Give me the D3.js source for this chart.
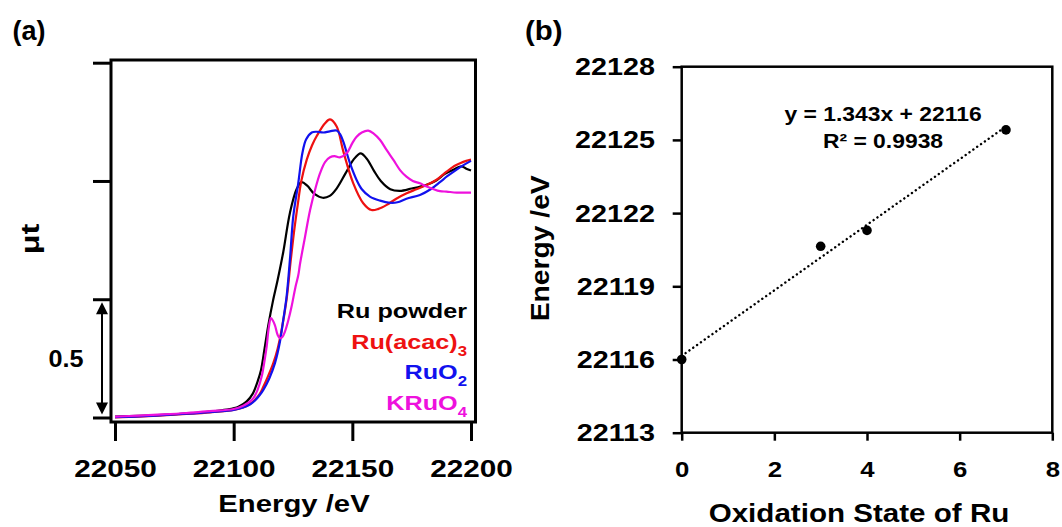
<!DOCTYPE html>
<html>
<head>
<meta charset="utf-8">
<script src="https://cdn.jsdelivr.net/npm/d3@7"></script>
<style>
  html, body { margin: 0; padding: 0; background: #fff; }
  svg { display: block; }
  text { font-family: "Liberation Sans", Arial, sans-serif; font-weight: bold; }
</style>
</head>
<body>
<svg id="chart" width="1062" height="527"></svg>
<script>
// ---------------- DATA ----------------
// Panel (a): XANES spectra, [energy (eV), normalized μt]
const ruPowder = [
  [22050,0.004],[22060,0.007],[22070,0.011],[22080,0.017],[22090,0.025],[22097,0.033],
  [22102,0.045],[22105.5,0.068],[22108,0.10],[22110,0.15],[22111.5,0.20],[22113,0.29],
  [22114.6,0.39],[22116.5,0.49],[22118.5,0.58],[22120.9,0.70],[22123.7,0.865],[22126.5,0.965],
  [22128.6,0.995],[22131,0.98],[22134,0.945],[22137.5,0.929],[22140.5,0.937],[22143.5,0.97],
  [22147,1.03],[22150.5,1.09],[22153.5,1.117],[22156,1.095],[22159,1.045],[22162,1.00],
  [22166,0.965],[22170,0.958],[22175,0.968],[22181,0.983],[22185,1.0],[22189,1.03],
  [22193,1.05],[22196,1.062],[22198,1.052],[22200,1.044]
];
const ruAcac3 = [
  [22050,0.0],[22060,0.004],[22070,0.009],[22080,0.015],[22090,0.022],[22100,0.032],
  [22104,0.042],[22107,0.058],[22109,0.075],[22111,0.10],[22112.5,0.13],[22114.5,0.175],
  [22116.7,0.23],[22118.5,0.29],[22120.2,0.37],[22122.3,0.50],[22124,0.66],[22125.5,0.79],
  [22127,0.90],[22128.5,1.00],[22130.8,1.09],[22133,1.15],[22135,1.19],[22138.5,1.244],
  [22140.6,1.26],[22143.4,1.23],[22146.2,1.125],[22150.4,0.99],[22154.6,0.906],[22158.1,0.877],
  [22161,0.882],[22164.5,0.899],[22168.5,0.925],[22172.9,0.948],[22177,0.965],[22181.3,0.983],
  [22185.5,1.005],[22189.7,1.039],[22193,1.063],[22195.4,1.075],[22198,1.085],[22200,1.09]
];
const ruO2 = [
  [22050,0.002],[22060,0.005],[22070,0.01],[22080,0.016],[22090,0.023],[22100,0.032],
  [22104,0.042],[22107,0.056],[22109,0.072],[22111,0.095],[22112.5,0.117],[22115,0.165],
  [22117.4,0.23],[22119.5,0.32],[22120.9,0.413],[22122.3,0.511],[22123.8,0.68],[22125.1,0.849],
  [22127.2,0.99],[22129,1.12],[22130.5,1.175],[22132.9,1.205],[22135,1.208],[22137.8,1.205],
  [22140.5,1.21],[22143.4,1.213],[22145,1.195],[22146.2,1.166],[22149,1.075],[22151.8,1.004],
  [22154,0.965],[22157.4,0.934],[22161.7,0.917],[22165.8,0.908],[22169,0.91],[22172.8,0.925],
  [22178.5,0.941],[22183,0.965],[22186.9,0.995],[22190,1.02],[22193.5,1.045],[22197,1.068],
  [22200,1.085]
];
const kRuO4 = [
  [22050,0.004],[22060,0.008],[22070,0.013],[22080,0.019],[22090,0.027],[22100,0.036],
  [22104,0.05],[22106.5,0.065],[22108.3,0.082],[22110,0.115],[22111.8,0.173],[22113,0.24],
  [22113.9,0.30],[22114.8,0.38],[22115.7,0.42],[22116.5,0.41],[22117.4,0.39],[22118.5,0.35],
  [22119.5,0.335],[22120.5,0.34],[22121.6,0.363],[22123,0.41],[22124.4,0.469],[22126,0.55],
  [22127.2,0.60],[22128,0.652],[22130,0.76],[22132.2,0.877],[22134.5,0.97],[22136.4,1.033],
  [22138.5,1.08],[22140.6,1.10],[22142.5,1.105],[22144.8,1.10],[22147.6,1.117],[22150,1.16],
  [22151.8,1.187],[22154,1.205],[22156.7,1.213],[22159,1.20],[22161.7,1.173],[22164.5,1.13],
  [22167.3,1.089],[22170.1,1.046],[22172.8,1.018],[22175.5,1.0],[22178.5,0.99],[22181,0.978],
  [22186.9,0.957],[22189.7,0.955],[22194,0.951],[22200,0.951]
];
const seriesNames = ["Ru powder", "Ru(acac)", "RuO", "KRuO"];
const seriesSubs = ["", "3", "2", "4"];
const seriesColors = ["#000000", "#ee1111", "#1111ee", "#ee11dd"];
const seriesData = [ruPowder, ruAcac3, ruO2, kRuO4];
const energyTicks = [22050, 22100, 22150, 22200];
const muTicks = [0, 0.5, 1.0, 1.5];
const scaleBarValue = "0.5";

// Panel (b): edge energy vs oxidation state
const oxidationStates = [0, 3, 4, 7];
const edgeEnergies = [22116.0, 22120.64, 22121.29, 22125.41];
const oxTicks = [0, 2, 4, 6, 8];
const energyTicksB = [22113, 22116, 22119, 22122, 22125, 22128];
const fitSlope = 1.343;
const fitIntercept = 22116.15;
const fitRange = [0, 7];
const fitLabel = "y = 1.343x + 22116";
const r2Label = "R² = 0.9938";

// ---------------- DRAW ----------------
const svg = d3.select("#chart");
const FONT = '"Liberation Sans", Arial, sans-serif';

function label(g, x, y, str, o = {}) {
  const t = g.append("text")
    .attr("transform", `translate(${x},${y})` + (o.rotate ? ` rotate(${o.rotate})` : "") + ` scale(${o.sx || 1},1)`)
    .attr("text-anchor", o.anchor || "start")
    .attr("font-size", o.size || 24)
    .attr("fill", o.color || "#000")
    .text(str);
  return t;
}

// ===== Panel (a) =====
const gA = svg.append("g");
const xA = d3.scaleLinear().domain([22050, 22200]).range([115, 471]);
const yA = d3.scaleLinear().domain([0, 1.5]).range([417.5, 62.7]);

// y ticks (no labels)
gA.append("g")
  .attr("transform", "translate(111,0)")
  .call(d3.axisLeft(yA).tickValues(muTicks).tickSize(18).tickSizeOuter(0).tickFormat(""))
  .call(g => g.select(".domain").remove())
  .call(g => g.selectAll(".tick line").attr("stroke", "#000").attr("stroke-width", 3));

// x axis
gA.append("g")
  .attr("transform", "translate(0,422)")
  .call(d3.axisBottom(xA).tickValues(energyTicks).tickSize(19).tickSizeOuter(0).tickFormat(d3.format("d")))
  .call(g => g.select(".domain").remove())
  .call(g => g.selectAll(".tick line").attr("stroke", "#000").attr("stroke-width", 3))
  .call(g => g.selectAll(".tick text")
    .attr("y", 55).attr("dy", null)
    .attr("transform", "scale(1.24,1)")
    .attr("font-size", 24).attr("font-family", FONT).attr("font-weight", "bold").attr("fill", "#000"));

// curves
const lineA = d3.line().x(d => xA(d[0])).y(d => yA(d[1])).curve(d3.curveCatmullRom.alpha(0.5));
seriesData.forEach((s, i) => {
  gA.append("path").datum(s)
    .attr("d", lineA)
    .attr("fill", "none")
    .attr("stroke", seriesColors[i])
    .attr("stroke-width", 2.2)
    .attr("stroke-linejoin", "round");
});

// frame
gA.append("rect").attr("x", 111).attr("y", 60).attr("width", 364.5).attr("height", 362)
  .attr("fill", "none").attr("stroke", "#000").attr("stroke-width", 3);

// legend
const legendBaselines = [318.3, 348.6, 379.4, 410];
seriesNames.forEach((n, i) => {
  const t = gA.append("text")
    .attr("transform", `translate(467,${legendBaselines[i]}) scale(1.2,1)`)
    .attr("text-anchor", "end")
    .attr("font-size", 21)
    .attr("fill", seriesColors[i]);
  t.append("tspan").text(n);
  if (seriesSubs[i]) t.append("tspan").attr("dy", 7).attr("font-size", 14).text(seriesSubs[i]);
});

// scale bar arrow (0.5)
const arrowX = 102;
const yTop = yA(0.5) + 3, yBot = yA(0) - 3;
gA.append("line").attr("x1", arrowX).attr("x2", arrowX).attr("y1", yTop + 8).attr("y2", yBot - 8)
  .attr("stroke", "#000").attr("stroke-width", 2);
gA.append("path").attr("d", `M${arrowX},${yTop} L${arrowX - 6},${yTop + 12} L${arrowX + 6},${yTop + 12} Z`).attr("fill", "#000");
gA.append("path").attr("d", `M${arrowX},${yBot} L${arrowX - 6},${yBot - 12} L${arrowX + 6},${yBot - 12} Z`).attr("fill", "#000");
label(gA, 66, 367, scaleBarValue, { size: 24, anchor: "middle", sx: 1.05 });

// axis titles
label(gA, 294, 512, "Energy /eV", { size: 24, anchor: "middle", sx: 1.22 });
label(gA, 39, 239, "μt", { size: 25, anchor: "middle", rotate: -90, sx: 1.3 });
label(gA, 12.5, 39.5, "(a)", { size: 27, sx: 1.0 });

// ===== Panel (b) =====
const gB = svg.append("g");
const xB = d3.scaleLinear().domain([0, 8]).range([681.7, 1052.3]);
const yB = d3.scaleLinear().domain([22113, 22128]).range([432.7, 66.7]);

gB.append("g")
  .attr("transform", "translate(0,432.7)")
  .call(d3.axisBottom(xB).tickValues(oxTicks).tickSize(8).tickSizeOuter(0).tickFormat(d3.format("d")))
  .call(g => g.select(".domain").remove())
  .call(g => g.selectAll(".tick line").attr("stroke", "#000").attr("stroke-width", 2.5))
  .call(g => g.selectAll(".tick text")
    .attr("y", 44.6).attr("dy", null)
    .attr("transform", "scale(1.12,1)")
    .attr("font-size", 23).attr("font-family", FONT).attr("font-weight", "bold").attr("fill", "#000"));

gB.append("g")
  .attr("transform", "translate(681.7,0)")
  .call(d3.axisLeft(yB).tickValues(energyTicksB).tickSize(9).tickSizeOuter(0).tickFormat(d3.format("d")))
  .call(g => g.select(".domain").remove())
  .call(g => g.selectAll(".tick line").attr("stroke", "#000").attr("stroke-width", 2.5))
  .call(g => g.selectAll(".tick text")
    .attr("x", null).attr("dy", null).attr("y", 8)
    .attr("text-anchor", "end")
    .attr("transform", "translate(-26.7,0) scale(1.25,1)")
    .attr("font-size", 23).attr("font-family", FONT).attr("font-weight", "bold").attr("fill", "#000"));

// frame
gB.append("rect").attr("x", 681.7).attr("y", 66.7).attr("width", 370.6).attr("height", 366)
  .attr("fill", "none").attr("stroke", "#000").attr("stroke-width", 2.5);

// trendline (dotted)
const fitPts = fitRange.map(x => [x, fitIntercept + fitSlope * x]);
gB.append("path").datum(fitPts)
  .attr("d", d3.line().x(d => xB(d[0])).y(d => yB(d[1])))
  .attr("fill", "none").attr("stroke", "#000").attr("stroke-width", 2.4)
  .attr("stroke-linecap", "round").attr("stroke-dasharray", "0.1,4.6");

// points
gB.selectAll("circle.pt").data(oxidationStates.map((x, i) => [x, edgeEnergies[i]]))
  .join("circle").attr("class", "pt")
  .attr("cx", d => xB(d[0])).attr("cy", d => yB(d[1])).attr("r", 4.8).attr("fill", "#000");

// equation
label(gB, 883, 120.7, fitLabel, { size: 21, anchor: "middle", sx: 1.09 });
label(gB, 883, 148.3, r2Label, { size: 21, anchor: "middle", sx: 1.09 });

// axis titles
label(gB, 859, 521.5, "Oxidation State of Ru", { size: 25.5, anchor: "middle", sx: 1.16 });
label(gB, 549, 248.3, "Energy /eV", { size: 25, anchor: "middle", rotate: -90, sx: 1.13 });
label(gB, 525, 39.5, "(b)", { size: 27, sx: 1.09 });
</script>
</body>
</html>
